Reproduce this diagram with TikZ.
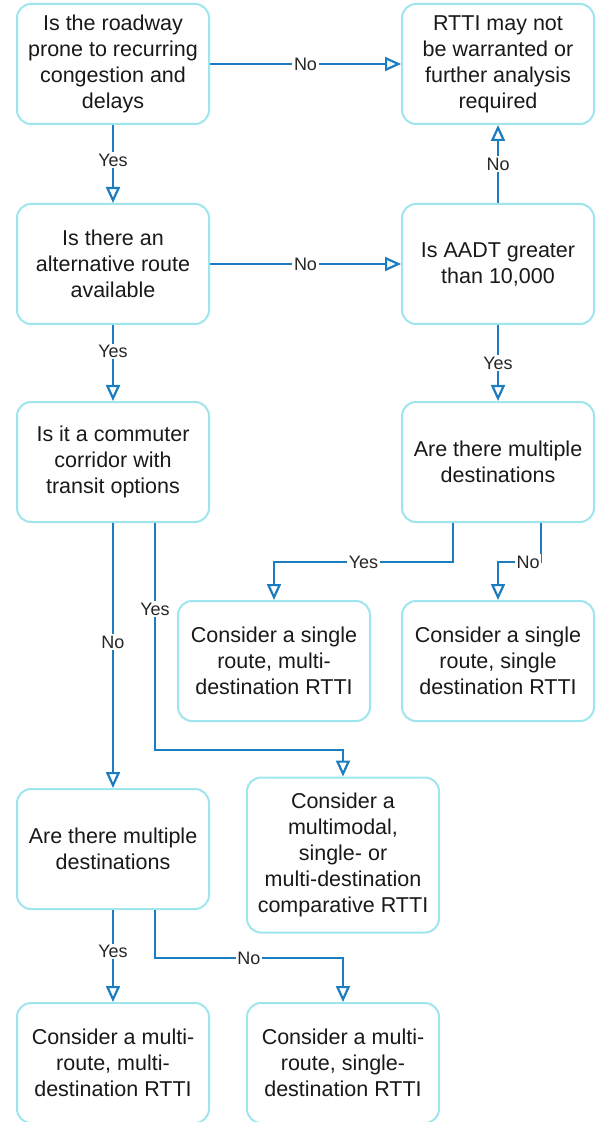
\documentclass[tikz,border=0pt]{standalone}
\usepackage{fontspec}
\setmainfont{Liberation Sans}
\usetikzlibrary{arrows.meta}
\definecolor{boxcyan}{HTML}{9FE5EE}
\definecolor{flowblue}{HTML}{1C7CC0}

\begin{document}
\begin{tikzpicture}[x=0.5pt,y=-0.5pt,box/.style={draw=boxcyan, line width=1pt, rounded corners=7pt, minimum width=96pt, minimum height=60pt, align=center, font=\fontsize{10.75}{13}\selectfont, text=black!90},flow/.style={draw=flowblue, line width=1.1pt, -{Triangle[fill=white, length=8pt, width=7pt]}},lbl/.style={fill=white, inner sep=0.8pt, font=\fontsize{9}{10}\selectfont, text=black!85}]
  \useasboundingbox (0,0) rectangle (597,1122);
  \node[box] (roadway) at (113,64) {Is the roadway\\prone to recurring\\congestion and\\delays};
  \node[box] (notwarranted) at (498,64) {RTTI may not\\be warranted or\\further analysis\\required};
  \node[box] (altroute) at (113,264) {Is there an\\alternative route\\available};
  \node[box] (aadt) at (498,264) {Is AADT greater\\than 10,000};
  \node[box] (commuter) at (113,462) {Is it a commuter\\corridor with\\transit options};
  \node[box] (destright) at (498,462) {Are there multiple\\destinations};
  \node[box] (singlemulti) at (274,661) {Consider a single\\route, multi-\\destination RTTI};
  \node[box] (singlesingle) at (498,661) {Consider a single\\route, single\\destination RTTI};
  \node[box] (destleft) at (113,849) {Are there multiple\\destinations};
  \node[box, minimum height=77.5pt] (multimodal) at (343,855) {Consider a\\multimodal,\\single- or\\multi-destination\\comparative RTTI};
  \node[box] (multimulti) at (113,1063) {Consider a multi-\\route, multi-\\destination RTTI};
  \node[box] (multisingle) at (343,1063) {Consider a multi-\\route, single-\\destination RTTI};

  \draw[flow] (roadway.east) -- node[lbl]{No} (notwarranted.west);
  \draw[flow] (roadway.south) -- node[lbl, pos=0.45]{Yes} (altroute.north);
  \draw[flow] (altroute.east) -- node[lbl]{No} (aadt.west);
  \draw[flow] (altroute.south) -- node[lbl, pos=0.35]{Yes} (commuter.north);
  \draw[flow] (aadt.north) -- node[lbl, pos=0.5]{No} (notwarranted.south);
  \draw[flow] (aadt.south) -- node[lbl, pos=0.5]{Yes} (destright.north);
  \draw[flow] ([xshift=-22.5pt]destright.south) -- ++(0,39) coordinate (yesbend) -- node[lbl]{Yes} (yesbend -| singlemulti.north) -- (singlemulti.north);
  \draw[flow] ([xshift=21.5pt]destright.south) -- ++(0,39) coordinate (nobend) -- node[lbl, pos=0.3]{No} (nobend -| singlesingle.north) -- (singlesingle.north);
  \draw[flow] (commuter.south) -- node[lbl, pos=0.45]{No} (destleft.north);
  \draw[flow] ([xshift=21pt]commuter.south) -- node[lbl, pos=0.38]{Yes} ++(0,227) coordinate (transitbend) -- (transitbend -| multimodal.north) -- (multimodal.north);
  \draw[flow] (destleft.south) -- node[lbl, pos=0.45]{Yes} (multimulti.north);
  \draw[flow] ([xshift=21pt]destleft.south) -- ++(0,48) coordinate (leftbend) -- node[lbl]{No} (leftbend -| multisingle.north) -- (multisingle.north);
\end{tikzpicture}
\end{document}
